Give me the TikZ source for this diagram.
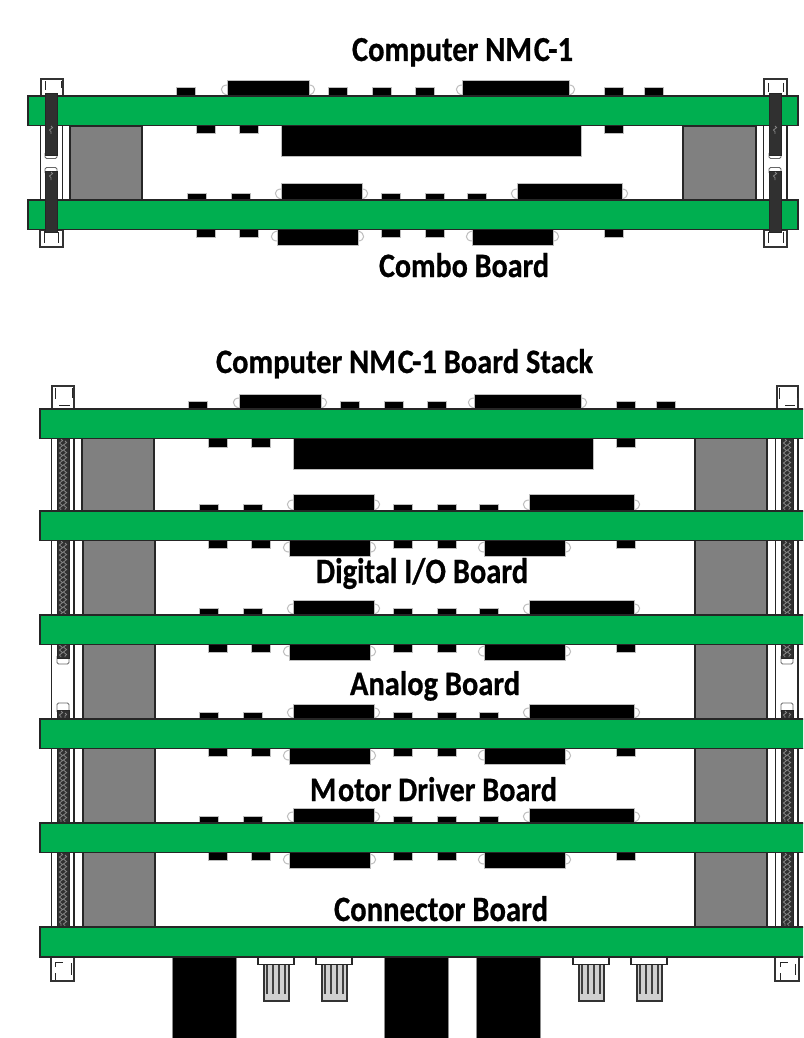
\documentclass[tikz,border=0pt]{standalone}
\usepackage{fontspec}
\setmainfont{Carlito}
\newfontfamily\lblfont[FakeBold=0.7]{Carlito Bold}
\usetikzlibrary{decorations.pathmorphing}
\definecolor{pcb}{RGB}{0,175,80}
\definecolor{spacer}{RGB}{128,128,128}
\definecolor{rod}{RGB}{48,48,48}
\definecolor{halo}{RGB}{190,190,190}
\definecolor{knob}{RGB}{208,208,208}
\tikzset{
  x=1pt,y=-1pt,
  pcbboard/.style={fill=pcb,draw=black!85,line width=1.3pt},
  chip/.style={fill=black,draw=halo,line width=1pt},
  solder/.style={draw=halo,line width=1pt},
  spacerblock/.style={fill=spacer,draw=black!85,line width=1.2pt},
  frameline/.style={draw=black!85,line width=1.2pt},
  bracket/.style={fill=white,draw=black!80,line width=1.1pt},
  tick/.style={draw=black!85,line width=1pt},
  rodbody/.style={fill=rod,draw=black!85,line width=1pt},
  rodthread/.style={draw=white!42!rod,line width=.8pt,decorate,decoration={snake,amplitude=1.6pt,segment length=5pt}},
  rodcap/.style={fill=white,draw=black!60,line width=.9pt,rounded corners=1.5pt},
  jack/.style={fill=black,draw=black!45,line width=.7pt},
  knobbase/.style={fill=white,draw=black!85,line width=1.1pt},
  knobstem/.style={fill=knob,draw=black!80,line width=1.2pt},
  rib/.style={draw=black!75,line width=1.1pt},
  tag/.style={inner sep=0pt,outer sep=0pt,anchor=base west}
}
% small chip: x, top, bottom
\newcommand{\smallchip}[3]{\draw[chip] ({#1-.5},#2) rectangle ({#1+18.5},#3);}
% upper-side large chip: x1,x2,top,board top
\newcommand{\bigtop}[4]{%
  \draw[solder] (#1,{#4-1}) .. controls ({#1-8},{#4-3}) and ({#1-7},{#4-11}) .. (#1,{#4-11});
  \draw[solder] (#2,{#4-11}) .. controls ({#2+7},{#4-11}) and ({#2+8},{#4-3}) .. (#2,{#4-1});
  \draw[chip] (#1,#3) rectangle (#2,{#4+1});}
% lower-side large chip: x1,x2,board bottom,bottom
\newcommand{\bigbot}[4]{%
  \draw[solder] (#1,{#3+1}) .. controls ({#1-8},{#3+3}) and ({#1-7},{#3+11}) .. (#1,{#3+11});
  \draw[solder] (#2,{#3+11}) .. controls ({#2+7},{#3+11}) and ({#2+8},{#3+3}) .. (#2,{#3+1});
  \draw[chip] (#1,{#3-1}) rectangle (#2,#4);}
% first board style (the processor board), local y 96..126
\newcommand{\computerboard}{%
  \foreach \a in {177,329,373,416,605,645} {\smallchip{\a}{88}{97}}
  \foreach \a in {197,240,605} {\smallchip{\a}{124}{134}}
  \bigtop{227}{309}{81}{96}
  \bigtop{462}{569}{81}{96}
  \draw[chip] (281,124) rectangle (581,156);
  \draw[pcbboard] (28,96) rectangle (798,125.5);}
% other boards, local y 200..230; #1 = top of large upper chips
\newcommand{\plainboard}[1]{%
  \foreach \a in {188,232,382,426,468} {\smallchip{\a}{193}{201}}
  \foreach \a in {197,240,382,426,605} {\smallchip{\a}{229}{237}}
  \bigtop{281}{362}{#1}{200}
  \bigtop{517}{622}{#1}{200}
  \bigbot{277}{358}{230}{245.5}
  \bigbot{472}{553}{230}{245.5}
  \draw[pcbboard] (28,200) rectangle (798,229.5);}
% threaded rod: x1,x2,y1,y2
\newcommand{\threaded}[4]{%
  \draw[rodbody] (#1,#3) rectangle (#2,#4);
  \draw[rodthread] ({(#1+#2)/2-2},{#3+1}) -- ({(#1+#2)/2-2},{#4-1});
  \draw[rodthread] ({(#1+#2)/2+2},{#3+3}) -- ({(#1+#2)/2+2},{#4-1});}
% plain rod: x1,x2,y1,y2
\newcommand{\smoothrod}[4]{%
  \draw[rodbody] (#1,#3) rectangle (#2,#4);}
% control knob: base left x
\newcommand{\knobat}[1]{%
  \draw[knobstem] ({#1+6},963) rectangle ({#1+31},1001);
  \foreach \d in {9,15,21,27} {\draw[rib] ({#1+\d},964) -- ({#1+\d},994);}
  \draw[knobbase] (#1,957) rectangle ({#1+36},964.5);}
\begin{document}
\begin{tikzpicture}
\useasboundingbox (0,0) rectangle (803,1038);
\clip (0,0) rectangle (803,1038);
\fill[white] (0,0) rectangle (803,1038);

% ---------- upper assembly ----------
\draw[spacerblock] (70,126) rectangle (142,200);
\draw[spacerblock] (683,126) rectangle (756,200);
\draw[bracket] (41,79) rectangle (63,96);
\draw[bracket] (764,79) rectangle (787,96);
\draw[bracket] (40,230) rectangle (63,247);
\draw[bracket] (764,230) rectangle (787,247);
\draw[frameline] (40.5,126) -- (40.5,200) (62.5,126) -- (62.5,200);
\draw[frameline] (763.5,126) -- (763.5,200) (787,126) -- (787,200);
\draw[tick] (45,81) -- (45,90) (61,81) -- (61,88);
\draw[tick] (768,83) -- (768,92) (783,83) -- (783,92);
\draw[tick] (44,231) -- (44,243) (58,232) -- (58,243);
\draw[tick] (768,232) -- (768,243) (783,232) -- (783,243);
\computerboard
\plainboard{183}
\foreach \a/\b in {45/57,769/781} {
  \draw[rodcap] (\a,152) rectangle (\b,158.5);
  \draw[rodcap] (\a,167.5) rectangle (\b,174);
  \smoothrod{\a}{\b}{94}{155}
  \smoothrod{\a}{\b}{171}{232}
  \draw[rodthread] ({\a+6},126) -- ({\a+6},134);
  \draw[rodthread] ({\a+6},172) -- ({\a+6},180);
}

\node[tag] (titletop) at (352,61) {\resizebox{221pt}{23pt}{\lblfont Computer NM\kern.06em C-1}};
\node[tag] (combo) at (379,277) {\resizebox{170pt}{24pt}{\lblfont Combo Board}};

% ---------- board stack ----------
\draw[spacerblock] (82,438) rectangle (154,511);
\draw[spacerblock] (83,540) rectangle (155,927);
\draw[spacerblock] (695,438) rectangle (767,927);
\draw[frameline] (51.5,438) -- (51.5,927) (74,438) -- (74,927);
\draw[frameline] (775.5,438) -- (775.5,927) (798,438) -- (798,927);
\foreach \a/\b in {57/69,781/793} {
  \threaded{\a}{\b}{438}{511}
  \draw[rodcap] (\a,655) rectangle (\b,664);
  \threaded{\a}{\b}{540}{658}
  \draw[rodcap] (\a,703) rectangle (\b,713);
  \threaded{\a}{\b}{710}{719}
  \threaded{\a}{\b}{748}{823}
  \threaded{\a}{\b}{852}{927}
}
\draw[bracket] (52,386) rectangle (74,409);
\draw[bracket] (777,386) rectangle (798,409);
\draw[bracket] (51,957) rectangle (74,981);
\draw[bracket] (775,957) rectangle (799,981);
\draw[tick] (55,388) -- (55,399) (72,388) -- (72,398) (59,405) -- (70,405);
\draw[tick] (779,388) -- (779,399) (797,388) -- (797,398) (785,405) -- (795,405);
\draw[tick] (55,967) -- (55,962) -- (63,962) (71,963) -- (71,975) (55,973) -- (55,980);
\draw[tick] (780,967) -- (780,962) -- (788,962) (795,964) -- (795,975) (780,973) -- (780,980);

\begin{scope}[shift={(12,313)}] \computerboard \end{scope}
\begin{scope}[shift={(12,311)}] \plainboard{183} \end{scope}
\begin{scope}[shift={(12,415)}] \plainboard{185} \end{scope}
\begin{scope}[shift={(12,519)}] \plainboard{185} \end{scope}
\begin{scope}[shift={(12,623)}] \plainboard{185} \end{scope}

% bottom board and its connectors
\draw[jack] (172,950) rectangle (236,1045);
\draw[jack] (384,950) rectangle (448,1045);
\draw[jack] (476,950) rectangle (540,1045);
\knobat{258}
\knobat{316}
\knobat{573}
\knobat{631}
\draw[pcbboard] (40,927) rectangle (815,957);

\node[tag] (titlestack) at (216,373) {\resizebox{377pt}{24pt}{\lblfont Computer NM\kern.06em C-1 Board Stack}};
\node[tag] (digital) at (316,583) {\resizebox{212pt}{25pt}{\lblfont Digital I/O Board}};
\node[tag] (analog) at (350,695) {\resizebox{170pt}{24pt}{\lblfont Analog Board}};
\node[tag] (motor) at (310,801) {\resizebox{247pt}{24pt}{\lblfont M\kern.05em otor Driver Board}};
\node[tag] (connector) at (334,921) {\resizebox{214pt}{25pt}{\lblfont Connector Board}};
\end{tikzpicture}
\end{document}
